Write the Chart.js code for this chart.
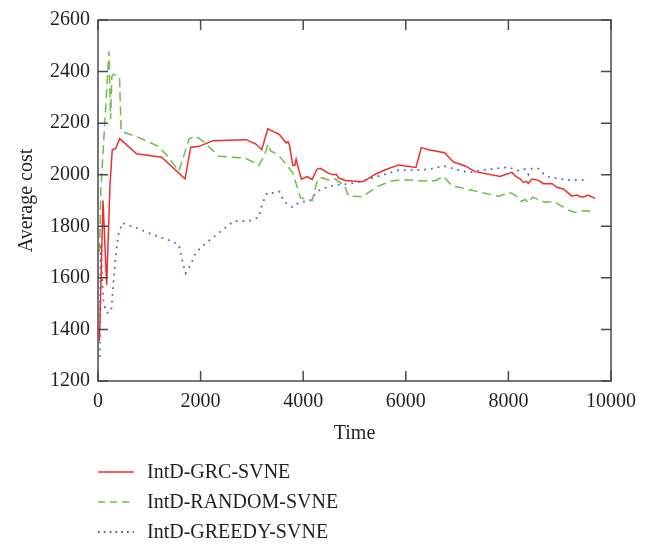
<!DOCTYPE html>
<html>
<head>
<meta charset="utf-8">
<script src="https://cdn.jsdelivr.net/npm/chart.js@4.4.0/dist/chart.umd.min.js"></script>
<style>
  html, body { margin: 0; padding: 0; background: #fff; }
  #wrap { width: 664px; height: 546px; }
</style>
</head>
<body>
<div id="wrap"><canvas id="costChart" width="664" height="546"></canvas></div>
<script>
// series
var grcTime = [29, 97, 169, 234, 278, 345, 422, 753, 1241, 1696, 1807, 1970, 2248, 2892, 3075, 3192, 3310, 3538, 3667, 3706, 3732, 3797, 3836, 3862, 3914, 3966, 4076, 4174, 4271, 4336, 4498, 4595, 4641, 4693, 4823, 5147, 5212, 5406, 5601, 5860, 6198, 6302, 6444, 6704, 6756, 6866, 6931, 7158, 7353, 7840, 8067, 8145, 8229, 8294, 8346, 8391, 8456, 8586, 8683, 8846, 8943, 9073, 9235, 9333, 9430, 9560, 9690];
var grcCost = [1356, 1900, 1572, 1961, 2097, 2102, 2140, 2081, 2068, 1984, 2106, 2110, 2132, 2136, 2119, 2097, 2178, 2156, 2123, 2128, 2115, 2037, 2037, 2061, 2019, 1983, 1993, 1982, 2022, 2025, 2005, 2000, 2002, 1987, 1978, 1973, 1978, 2002, 2019, 2038, 2028, 2105, 2097, 2087, 2085, 2062, 2049, 2034, 2012, 1993, 2009, 1993, 1984, 1970, 1974, 1966, 1983, 1978, 1965, 1966, 1951, 1945, 1917, 1921, 1913, 1920, 1908];

var randomTime = [30, 55, 214, 245, 270, 300, 420, 450, 799, 1156, 1319, 1577, 1675, 1773, 1903, 2033, 2356, 2616, 2876, 3135, 3232, 3317, 3362, 3524, 3784, 3849, 3946, 4076, 4174, 4271, 4336, 4498, 4628, 4725, 4790, 4887, 5147, 5471, 5731, 5926, 6315, 6574, 6737, 6899, 7094, 7289, 7483, 7808, 8035, 8132, 8248, 8326, 8391, 8469, 8716, 8878, 9170, 9300, 9495, 9690];
var randomCost = [1700, 1940, 2478, 2215, 2380, 2390, 2377, 2169, 2144, 2112, 2081, 2014, 2075, 2138, 2150, 2132, 2072, 2068, 2064, 2037, 2068, 2119, 2093, 2075, 2011, 1974, 1911, 1904, 1900, 1974, 1989, 1980, 1983, 1968, 1964, 1917, 1914, 1957, 1976, 1981, 1976, 1977, 1993, 1957, 1949, 1940, 1930, 1917, 1930, 1921, 1896, 1904, 1891, 1913, 1893, 1896, 1863, 1854, 1860, 1856];

var greedyTime = [33, 53, 80, 111, 175, 234, 260, 292, 344, 396, 474, 734, 1091, 1448, 1577, 1643, 1708, 1808, 1903, 2098, 2421, 2648, 2940, 3135, 3200, 3297, 3427, 3537, 3589, 3622, 3784, 3914, 4141, 4206, 4271, 4498, 4693, 4887, 5147, 5341, 5601, 5860, 6185, 6444, 6737, 6964, 7223, 7483, 7743, 8002, 8229, 8326, 8391, 8456, 8586, 8683, 8781, 8975, 9235, 9495];
var greedyCost = [1293, 1734, 1600, 1500, 1465, 1465, 1476, 1558, 1684, 1766, 1813, 1795, 1766, 1741, 1728, 1665, 1618, 1652, 1697, 1734, 1785, 1820, 1820, 1835, 1886, 1930, 1929, 1934, 1911, 1896, 1875, 1892, 1900, 1917, 1936, 1955, 1961, 1964, 1974, 1987, 2002, 2018, 2018, 2021, 2034, 2022, 2008, 2018, 2024, 2029, 2014, 2022, 2001, 2024, 2024, 2004, 1993, 1984, 1978, 1980];

var seriesNames = ['IntD-GRC-SVNE', 'IntD-RANDOM-SVNE', 'IntD-GREEDY-SVNE'];
var xTicks = [0, 2000, 4000, 6000, 8000, 10000];
var yTicks = [1200, 1400, 1600, 1800, 2000, 2200, 2400, 2600];

var FONT = "'Liberation Serif', 'Times New Roman', serif";
var TEXT = '#231f20';
var FRAME = '#4a4a4a';

const toPoints = (xs, ys) => {
    var pts = [];
    xs.forEach(function (x, i) {
        pts.push({ x: x, y: ys[i] });
    })
    return pts
}

// frame with inward ticks on all four sides
const framePlugin = {
    id: 'frame',
    afterDatasetsDraw(chart) {
        var c = chart.ctx;
        var a = chart.chartArea;
        var xs = chart.scales.x, ys = chart.scales.y;
        c.save();
        c.strokeStyle = FRAME;
        c.lineWidth = 1.5;
        c.strokeRect(a.left, a.top, a.right - a.left, a.bottom - a.top);
        c.beginPath();
        xTicks.forEach(function (v) {
            var px = xs.getPixelForValue(v);
            c.moveTo(px, a.bottom); c.lineTo(px, a.bottom - 10);
            c.moveTo(px, a.top); c.lineTo(px, a.top + 10);
        })
        yTicks.forEach(function (v) {
            var py = ys.getPixelForValue(v);
            c.moveTo(a.left, py); c.lineTo(a.left + 10, py);
            c.moveTo(a.right, py); c.lineTo(a.right - 10, py);
        })
        c.stroke();
        c.restore();
    }
}

// vertical legend under the plot
const legendPlugin = {
    id: 'stackLegend',
    afterDraw(chart) {
        var c = chart.ctx;
        c.save();
        c.font = '20px ' + FONT;
        c.textBaseline = 'middle';
        chart.data.datasets.forEach(function (ds, i) {
            var y = 472 + i * 30;
            c.strokeStyle = ds.borderColor;
            c.lineWidth = ds.borderWidth;
            c.setLineDash(ds.legendDash || []);
            c.beginPath();
            c.moveTo(98, y); c.lineTo(134, y);
            c.stroke();
            c.setLineDash([]);
            c.fillStyle = TEXT;
            c.fillText(ds.label, 147, y + 1);
        })
        c.restore();
    }
}

var ctx = document.getElementById('costChart');
new Chart(ctx, {
    type: 'line',
    data: {
        datasets: [{
            label: seriesNames[0],
            data: toPoints(grcTime, grcCost),
            borderColor: '#ee2d2d',
            borderWidth: 1.5
        }, {
            label: seriesNames[1],
            data: toPoints(randomTime, randomCost),
            borderColor: '#6cbf45',
            borderWidth: 1.5,
            borderDash: [9, 5],
            legendDash: [7, 5]
        }, {
            label: seriesNames[2],
            data: toPoints(greedyTime, greedyCost),
            borderColor: '#5264c0',
            borderWidth: 1.8,
            borderDash: [1.8, 5],
            legendDash: [1.8, 4]
        }]
    },
    options: {
        responsive: false,
        animation: false,
        elements: { point: { radius: 0 }, line: { tension: 0 } },
        layout: { padding: { left: 0, top: 11, right: 53, bottom: 100 } },
        scales: {
            x: {
                type: 'linear',
                min: 0,
                max: 10000,
                afterBuildTicks: s => { s.ticks = xTicks.map(v => ({ value: v })) },
                afterFit: s => { s.height = 65 },
                grid: { display: false, drawTicks: false },
                border: { display: false },
                ticks: { color: TEXT, font: { family: FONT, size: 20 }, padding: 9, maxRotation: 0, callback: v => String(v) },
                title: { display: true, text: 'Time', color: TEXT, font: { family: FONT, size: 20 }, padding: { top: 0, bottom: 0 } }
            },
            y: {
                min: 1200,
                max: 2600,
                afterBuildTicks: s => { s.ticks = yTicks.map(v => ({ value: v })) },
                afterFit: s => { s.width = 98 },
                grid: { display: false, drawTicks: false },
                border: { display: false },
                ticks: { color: TEXT, font: { family: FONT, size: 20 }, padding: 8, callback: v => String(v) },
                title: { display: true, text: 'Average cost', color: TEXT, font: { family: FONT, size: 20 }, padding: { top: 15, bottom: 0 } }
            }
        },
        plugins: {
            legend: { display: false },
            tooltip: { enabled: false }
        }
    },
    plugins: [framePlugin, legendPlugin]
});
</script>
</body>
</html>
